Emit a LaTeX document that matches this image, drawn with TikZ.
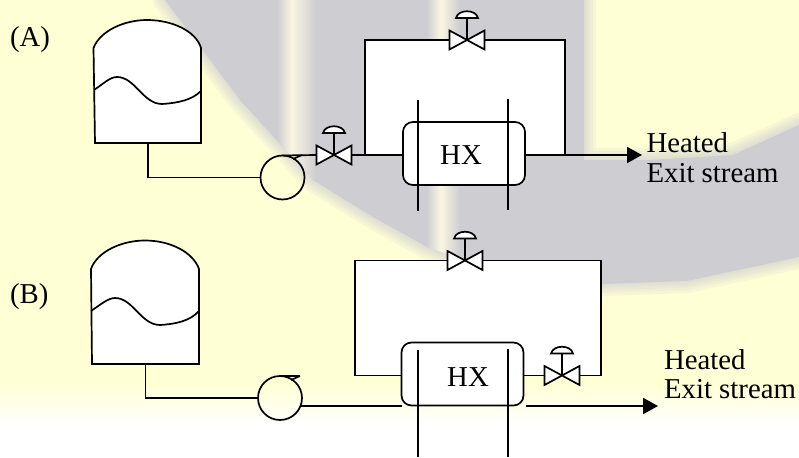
\documentclass[tikz,border=0pt]{standalone}
\usepackage{fontspec}
\setmainfont{Liberation Serif}
\usetikzlibrary{arrows.meta,calc}
\definecolor{bgyellow}{RGB}{255,255,214}
\definecolor{bggrey}{RGB}{205,205,210}
\definecolor{bgcream}{RGB}{250,246,225}
\tikzset{
  pipe/.style={draw=black,line width=1.7pt,line join=miter},
  flowline/.style={draw=black,line width=2pt,-{Triangle[length=15pt,width=16pt]}},
  hxbox/.style={draw=black,line width=1.7pt,fill=white,rounded corners=10pt,minimum width=122pt,minimum height=63pt,inner sep=0pt,outer sep=0pt},
  pumpc/.style={circle,draw=black,line width=1.7pt,minimum size=44pt,inner sep=0pt,outer sep=0pt},
  txt/.style={font=\fontsize{28.8}{29}\selectfont,text=black,inner sep=0pt,outer sep=0pt},
  lbl/.style={txt,anchor=base west},
  valve/.pic={
    \draw[line width=1.7pt,fill=white,line join=miter] (-17.5,-9.5) -- (17.5,9.5) -- (17.5,-9.5) -- (-17.5,9.5) -- cycle;
    \draw[line width=1.7pt] (0,0) -- (0,-23);
    \draw[line width=1.7pt,fill=white] (-11,-22) .. controls (-9,-31) and (9,-31) .. (11,-22) -- cycle;
    \coordinate (-w) at (-17.5,0);
    \coordinate (-e) at (17.5,0);
  },
  softedge/.style={draw=bggrey,line join=round,opacity=0.16}
}
\begin{document}
\begin{tikzpicture}[x=1pt,y=-1pt]
\useasboundingbox (0,0) rectangle (799,457);
\clip (0,0) rectangle (799,457);
% background
\fill[bgyellow] (0,0) rectangle (799,400);
\fill[white] (0,425) rectangle (799,457);
\shade[top color=bgyellow,bottom color=white] (0,385) rectangle (799,426);
\def\greypath{(165,0) -- (240,100) -- (283,147) -- (313,180) -- (373,217) -- (427,247) -- (470,262) -- (540,282) -- (603,284) -- (687,281) -- (799,257) -- (799,125) -- (733,155) -- (650,160) -- (584,160) -- (584,0) -- cycle}
\foreach \w in {24,18,13,8,4}{\path[softedge,line width=\w pt] \greypath;}
\fill[bggrey] \greypath;
\begin{scope}
\clip \greypath;
\shade[left color=bggrey,right color=bgcream] (277,0) rectangle (292,200);
\shade[left color=bgcream,right color=bggrey] (292,0) rectangle (316,200);
\shade[left color=bggrey,right color=bgcream] (426,0) rectangle (441,262);
\shade[left color=bgcream,right color=bggrey] (441,0) rectangle (460,262);
\end{scope}

% ---------- (A)
\node[lbl] (labelA) at (10,47) {(A)};
\fill[white] (365,40) rectangle (565,155);
\draw[pipe,fill=white] (95,143) coordinate (tAbl) -- (93.5,48)
  .. controls (100,31) and (124,20) .. (147,20)
  .. controls (172,20) and (196,31) .. (201,48)
  -- (201,143) coordinate (tAbr) -- cycle;
\draw[pipe] (94,90) .. controls (103,84) and (110,77) .. (117,77)
  .. controls (135,77) and (143,104) .. (162,104)
  .. controls (178,103) and (192,100) .. (201,91);
\coordinate (tAout) at ($(tAbl)!0.5!(tAbr)$);
\node[pumpc] (pA) at (282.5,177.5) {};
\pic (vA1) at (334,155) {valve};
\pic (vA2) at (467,40) {valve};
\coordinate (jA1) at (365,155);
\coordinate (jA2) at (565,155);
\node[hxbox] (hxA) at (464,153.5) {};
\draw[pipe] (418,100) coordinate (cA1t) -- (418,211) coordinate (cA1b);
\draw[pipe] (508,99) coordinate (cA2t) -- (508,210) coordinate (cA2b);
\node[txt] (hxAl) at (461,155) {HX};
\draw[pipe] (tAout) |- (pA.west);
\draw[pipe] (pA.north) -- (vA1-w);
\draw[pipe] (293,159) -- (302,155);
\draw[pipe] (vA1-e) -- (hxA.west |- vA1-e);
\draw[pipe] (jA1) |- (vA2-w);
\draw[pipe] (vA2-e) -| (jA2);
\coordinate (aA) at (642,155);
\draw[pipe] (hxA.east |- jA2) -- (jA2);
\draw[flowline] (jA2) -- (aA);
\node[lbl] (oA1) at (646.5,153) {Heated};
\node[lbl] (oA2) at (646.5,182) {Exit stream};

% ---------- (B)
\node[lbl] (labelB) at (10,303) {(B)};
\fill[white] (355,260.5) rectangle (601,375.5);
\draw[pipe,fill=white] (92,364) coordinate (tBbl) -- (91,269)
  .. controls (97,252) and (121,240.5) .. (145,240.5)
  .. controls (170,240.5) and (193,252) .. (199,269)
  -- (199,364) coordinate (tBbr) -- cycle;
\draw[pipe] (91,311) .. controls (100,305) and (108,298) .. (115,298)
  .. controls (133,298) and (141,325) .. (160,325)
  .. controls (176,324) and (190,321) .. (199,311);
\coordinate (tBout) at ($(tBbl)!0.5!(tBbr)$);
\node[pumpc] (pB) at (280,398) {};
\pic (vB1) at (465,260.5) {valve};
\pic (vB2) at (562,375.5) {valve};
\coordinate (jB) at (601,375.5);
\coordinate (jBl) at (355,375.5);
\node[hxbox] (hxB) at (462.5,374) {};
\draw[pipe] (418,350) coordinate (cB1t) -- (418,457) coordinate (cB1b);
\draw[pipe] (508,349) coordinate (cB2t) -- (508,457) coordinate (cB2b);
\node[txt] (hxBl) at (468,377.5) {HX};
\draw[pipe] (tBout) |- (pB.west);
\draw[pipe] (pB.north) -- (300,376);
\draw[pipe] (291,380) -- (300,376);
\coordinate (pBo) at (301,406);
\draw[pipe] (pBo) -- (hxB.west |- pBo);
\draw[pipe] (hxB.west |- jBl) -- (jBl) |- (vB1-w);
\draw[pipe] (vB1-e) -| (jB) -- (vB2-e);
\draw[pipe] (vB2-w) -- (hxB.east |- vB2-w);
\coordinate (sB) at (526,406);
\coordinate (aB) at (658,406);
\draw[flowline] (sB) -- (aB);
\node[lbl] (oB1) at (664,369) {Heated};
\node[lbl] (oB2) at (664,398) {Exit stream};
\end{tikzpicture}
\end{document}
